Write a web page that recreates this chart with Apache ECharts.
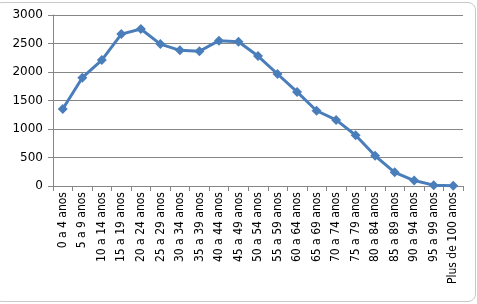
<!DOCTYPE html>
<html><head><meta charset="utf-8">
<script src="https://cdn.jsdelivr.net/npm/echarts@6/dist/echarts.min.js"></script>
<style>
html,body{margin:0;padding:0;background:#fff;}
#c{width:477px;height:304px;}
#frame{position:absolute;left:-6px;top:2px;width:480px;height:298px;border:1px solid #c8c8c8;border-radius:8px;pointer-events:none;}
</style></head><body>
<div id="c"></div><div id="frame"></div>
<script>
const categories = ["0 a 4 anos","5 a 9 anos","10 a 14 anos","15 a 19 anos","20 a 24 anos","25 a 29 anos","30 a 34 anos","35 a 39 anos","40 a 44 anos","45 a 49 anos","50 a 54 anos","55 a 59 anos","60 a 64 anos","65 a 69 anos","70 a 74 anos","75 a 79 anos","80 a 84 anos","85 a 89 anos","90 a 94 anos","95 a 99 anos","Plus de 100 anos"];
const values = [1350,1900,2210,2665,2755,2490,2380,2365,2550,2530,2280,1965,1650,1320,1160,890,530,240,95,15,5];
const yTicks = [0,500,1000,1500,2000,2500,3000];

const chart = echarts.init(document.getElementById('c'));
chart.setOption({
  animation:false,
  grid:{left:53,right:14,top:15,bottom:118},
  xAxis:{type:'category',data:categories,boundaryGap:true,
    axisLine:{lineStyle:{color:'#868686',width:1}},
    axisTick:{show:true,length:5,lineStyle:{color:'#868686'}},
    axisLabel:{rotate:90,interval:0,color:'#000',fontSize:12,fontFamily:'DejaVu Sans Condensed, Liberation Sans, sans-serif',margin:6}},
  yAxis:{type:'value',min:0,max:3000,interval:500,
    axisLine:{show:true,lineStyle:{color:'#868686'}},
    axisTick:{show:true,length:5,inside:false,lineStyle:{color:'#868686'}},
    splitLine:{lineStyle:{color:'#868686',width:1}},
    axisLabel:{color:'#000',fontSize:12,fontFamily:'DejaVu Sans, sans-serif',margin:10,
      formatter:v=>yTicks.includes(v)?String(v):''}},
  series:[{type:'line',data:values,symbol:'diamond',symbolSize:10,
    lineStyle:{color:'#4a7ebb',width:3},itemStyle:{color:'#4a7ebb'}}]
});
</script></body></html>
